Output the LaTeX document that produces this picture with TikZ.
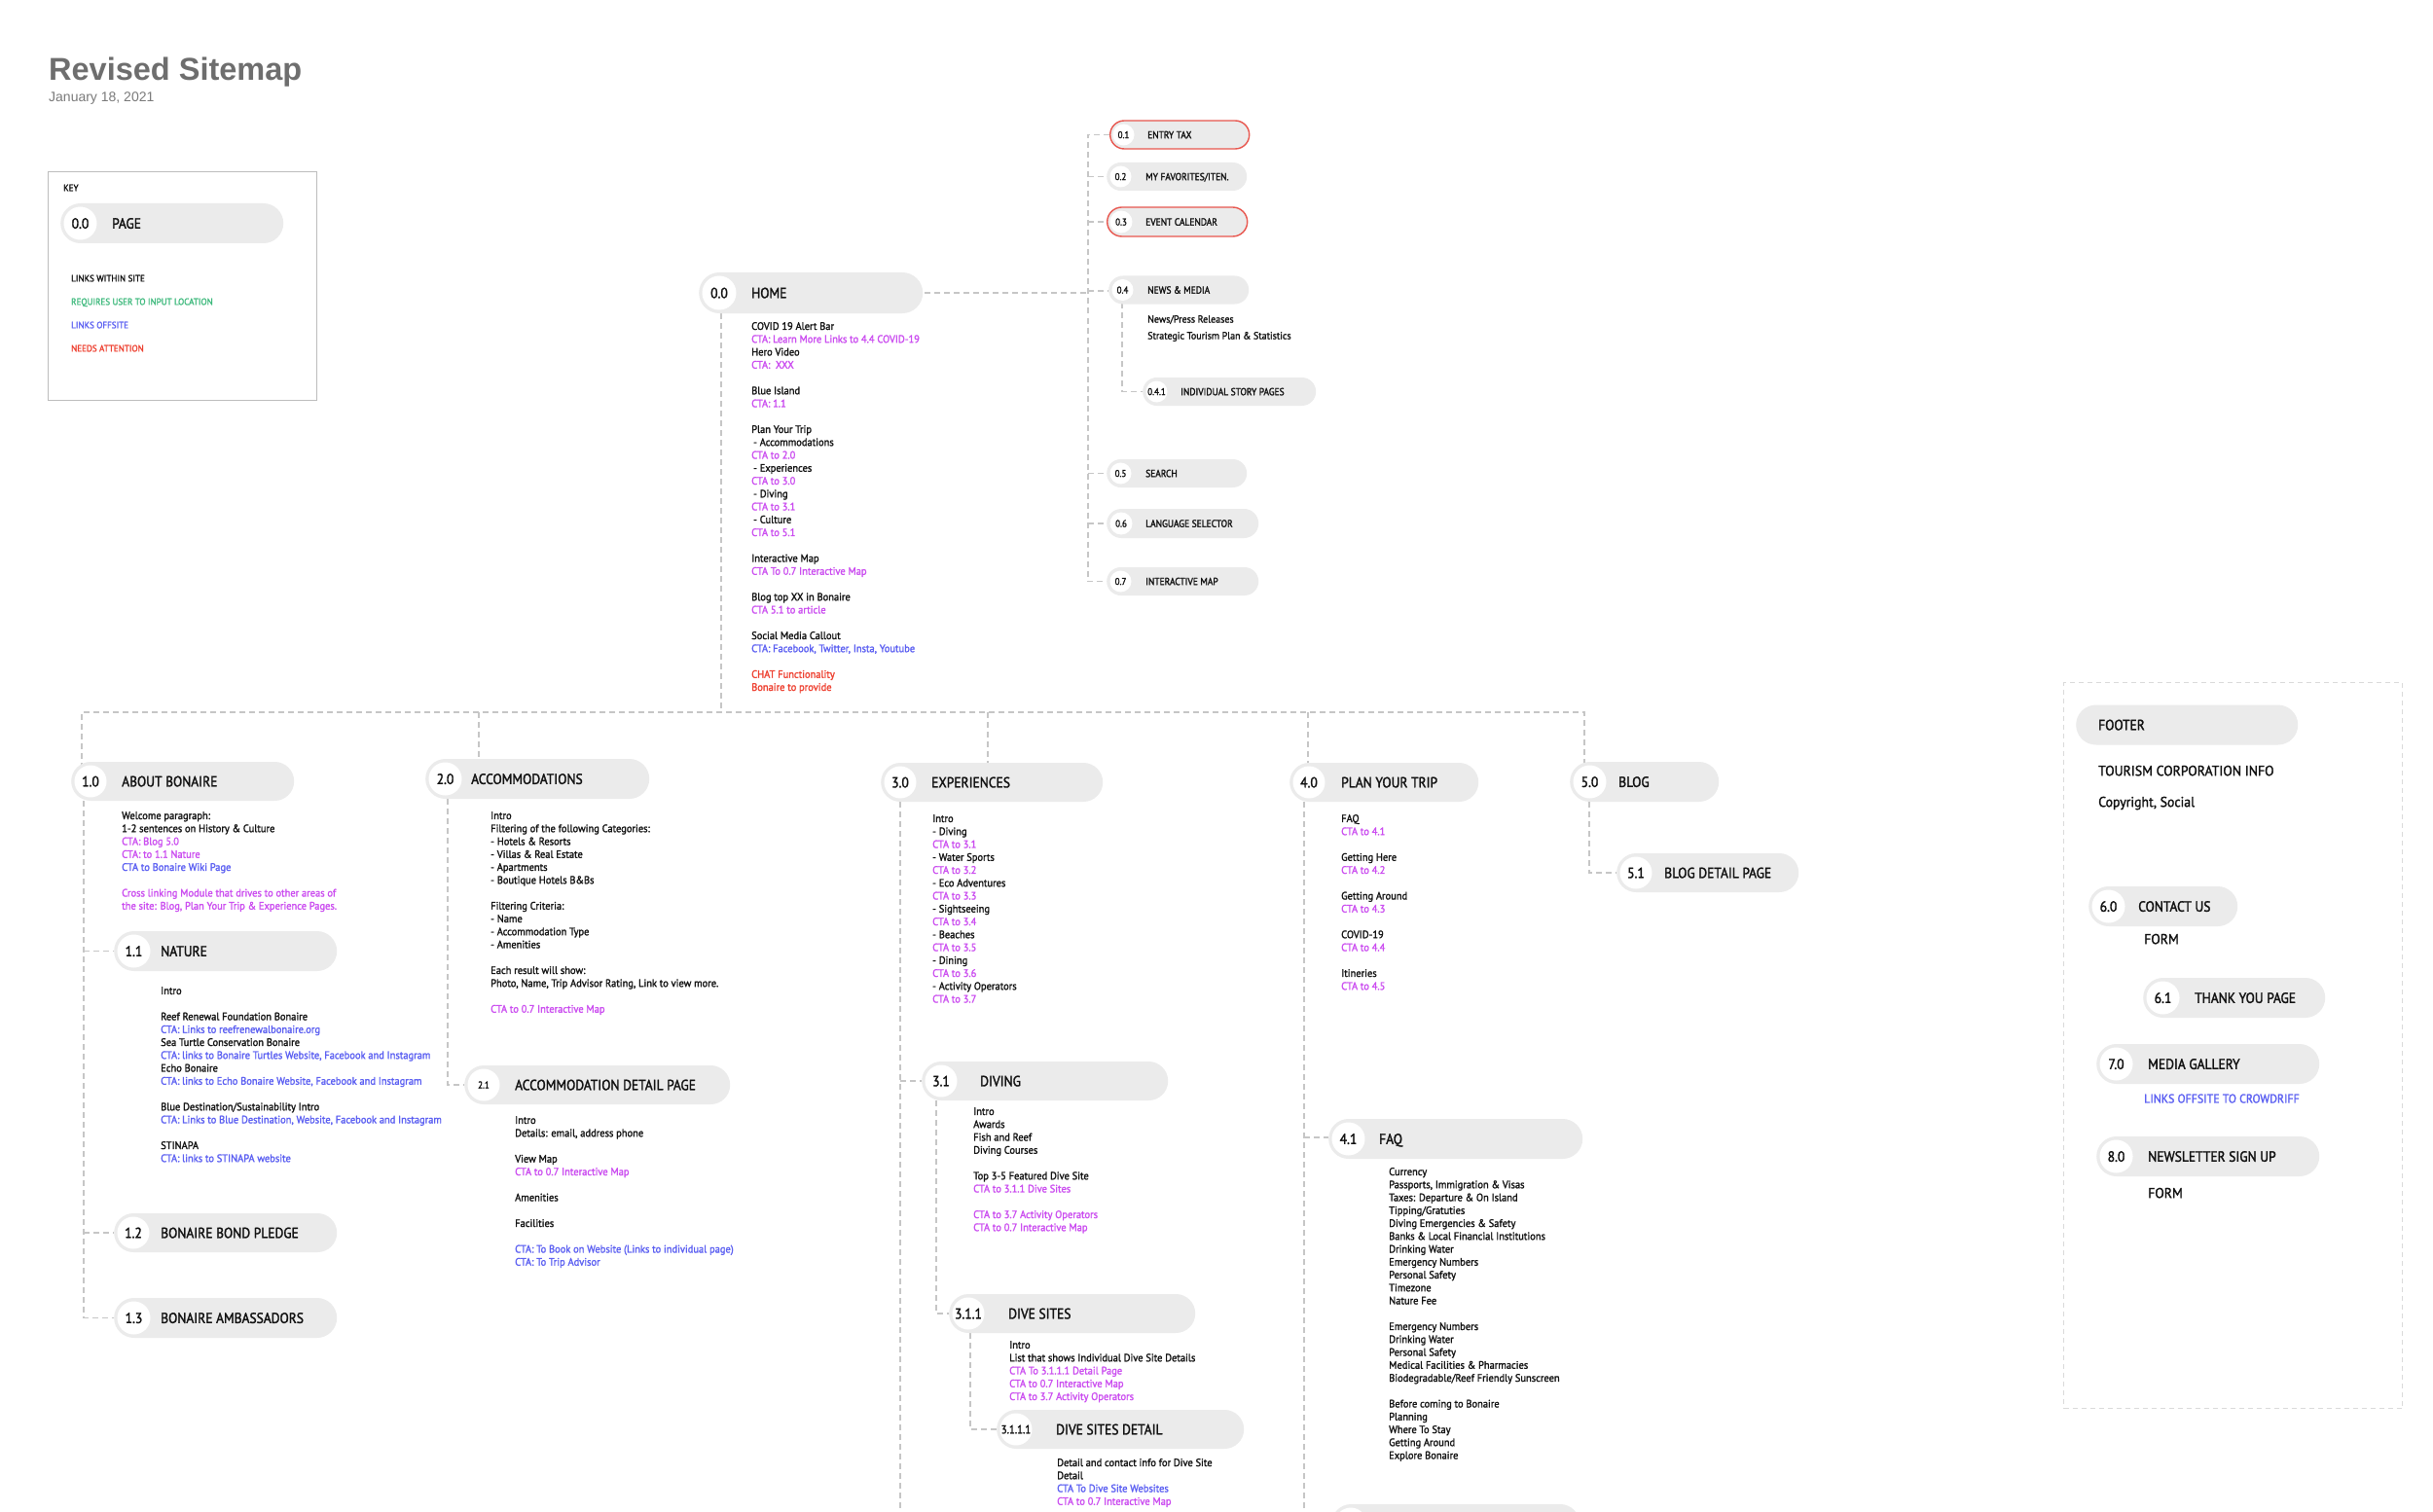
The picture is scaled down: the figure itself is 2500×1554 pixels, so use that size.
\documentclass[tikz,border=0pt]{standalone}
\usepackage{fontspec}
\setmainfont{PT Sans}
\newfontfamily\din{PT Sans}[FakeStretch=0.95,FakeBold=1.6]
\newfontfamily\dinl{PT Sans}[FakeStretch=0.9,FakeBold=1.8]
\newfontfamily\hel{Liberation Sans}
\usetikzlibrary{shapes.misc}
\definecolor{pillgray}{HTML}{EBEBEB}
\definecolor{dashgray}{HTML}{C6C6C6}
\definecolor{boxgray}{HTML}{BDBDBD}
\definecolor{footgray}{HTML}{DADADA}
\definecolor{ctamag}{HTML}{CB4CF0}
\definecolor{ctablue}{HTML}{5A5EF2}
\definecolor{needred}{HTML}{EE3F2F}
\definecolor{locgreen}{HTML}{3DB97C}
\definecolor{redline}{HTML}{E8574F}
\definecolor{inkblack}{HTML}{111111}
\definecolor{titlegray}{HTML}{6E6E6E}
\definecolor{dategray}{HTML}{7A7A7A}
\newcommand{\FBig}{\dinl\fontsize{15}{18}\selectfont}
\newcommand{\FFoot}{\dinl\fontsize{15}{18}\selectfont}
\newcommand{\FSm}{\dinl\fontsize{10}{12}\selectfont}
\newcommand{\FLab}{\dinl\fontsize{10.5}{12}\selectfont}
\newcommand{\FMid}{\dinl\fontsize{12}{14}\selectfont}
\newcommand{\CM}[1]{\textcolor{ctamag}{#1}}
\newcommand{\CB}[1]{\textcolor{ctablue}{#1}}
\newcommand{\CR}[1]{\textcolor{needred}{#1}}
\newcommand{\gap}{\\[13.25pt]}
\tikzset{
 pill/.style={rounded rectangle, fill=pillgray, draw=none, inner sep=0, anchor=west},
 redpill/.style={draw=redline, line width=1.4},
 dot/.style={circle, fill=white, draw=none, inner sep=0},
 conn/.style={draw=dashgray, line width=1.4, dash pattern=on 6 off 4},
 txt/.style={inner sep=0, anchor=north west, align=left, text=inkblack, font=\din\fontsize{11}{13.25}\selectfont},
 lbl/.style={inner sep=0, text=inkblack, text depth=0pt},
 keytxt/.style={inner sep=0, anchor=west, text depth=0pt, font=\din\fontsize{9.5}{11}\selectfont},
 foottxt/.style={inner sep=0, anchor=west, text depth=0pt, text=inkblack, font=\din\fontsize{14.5}{17}\selectfont},
}
% #1 name #2 left #3 cy #4 width #5 height #6 extra #7 number #8 label #9 label offset
\newcommand{\pagepill}[9]{%
 \node[pill, minimum width=#4, minimum height=#5, #6] (#1) at (#2,#3) {};
 \node[dot, minimum size={#5-7}] (#1c) at ({#2+#5/2},#3) {};
 \node[lbl] (#1n) at (#1c) {#7};
 \node[lbl, anchor=west] (#1l) at ({#2+#9},#3) {#8};
}
\newcommand{\bp}[8]{\pagepill{#1}{#2}{#3}{#4}{#5}{}{\FBig #6}{\FBig #7}{#8}}
\begin{document}
\begin{tikzpicture}[x=1pt,y=-1pt]
\useasboundingbox[fill=white] (0,0) rectangle (2500,1554);

% ---------- title ----------
\node[inner sep=0, anchor=base west, text=titlegray, font=\hel\bfseries\fontsize{32.5}{36}\selectfont] (title) at (50,83) {Revised Sitemap};
\node[inner sep=0, anchor=base west, text=dategray, font=\hel\fontsize{14}{16}\selectfont] (date) at (50,105) {January 18, 2021};

% ---------- key ----------
\node[draw=boxgray, line width=1.3, minimum width=276, minimum height=235, inner sep=0, anchor=north west] (keybox) at (49,176) {};
\node[keytxt, text=inkblack] (keyt) at (65,193) {KEY};
\bp{key}{62}{229.5}{229}{41}{0.0}{PAGE}{53}
\node[keytxt, text=inkblack] (k1) at (73,286) {LINKS WITHIN SITE};
\node[keytxt, text=locgreen] (k2) at (73,310) {REQUIRES USER TO INPUT LOCATION};
\node[keytxt, text=ctablue] (k3) at (73,334) {LINKS OFFSITE};
\node[keytxt, text=needred] (k4) at (73,358) {NEEDS ATTENTION};

% ---------- coordinates ----------
\coordinate (tr) at (1118,299);
\coordinate (bus0) at (84,732);
\coordinate (bus2) at (492,732);
\coordinate (bus3) at (1015,732);
\coordinate (bus4) at (1344,732);
\coordinate (bus5) at (1628,732);
\coordinate (hv) at (741,322);
\coordinate (v1) at (86,823);
\coordinate (v2) at (460,821);
\coordinate (v3) at (925,824);
\coordinate (v3b) at (925,1554);
\coordinate (v31) at (962,1131);
\coordinate (v311) at (997,1370);
\coordinate (v4) at (1340,824);
\coordinate (v4b) at (1340,1554);
\coordinate (v5) at (1633,824);
\coordinate (v04) at (1153,311);

% ---------- connectors (drawn before pills so the pills cover their ends) ----------
\draw[conn] (hv) -- (hv |- bus0);
\draw[conn] (bus0 |- 0,790) -- (bus0) -- (bus5) -- (bus5 |- 0,790);
\draw[conn] (bus2) -- (bus2 |- 0,790);
\draw[conn] (bus3) -- (bus3 |- 0,790);
\draw[conn] (bus4) -- (bus4 |- 0,790);
\draw[conn] (940,301) -- (tr |- 0,301);
\draw[conn] (1140,138.5) -- (tr |- 0,138.5) -- (tr |- 0,597.5) -- (1137,597.5);
\draw[conn] (tr |- 0,181.5) -- (1137,181.5);
\draw[conn] (tr |- 0,228) -- (1137,228);
\draw[conn] (tr) -- (1139,299);
\draw[conn] (tr |- 0,486.5) -- (1137,486.5);
\draw[conn] (tr |- 0,538) -- (1137,538);
\draw[conn] (v04) -- (v04 |- 0,402.5) -- (1174,402.5);
\draw[conn] (v1) -- (v1 |- 0,1354.5) -- (117,1354.5);
\draw[conn] (v1 |- 0,977.5) -- (117,977.5);
\draw[conn] (v1 |- 0,1267) -- (117,1267);
\draw[conn] (v2) -- (v2 |- 0,1115) -- (477,1115);
\draw[conn] (v3) -- (v3b);
\draw[conn] (v3 |- 0,1111) -- (947,1111);
\draw[conn] (v31) -- (v31 |- 0,1350) -- (975,1350);
\draw[conn] (v311) -- (v311 |- 0,1469) -- (1024,1469);
\draw[conn] (v4) -- (v4b);
\draw[conn] (v4 |- 0,1169) -- (1365,1169);
\draw[conn] (v5) -- (v5 |- 0,897) -- (1661,897);

% home
\bp{n00}{718}{301}{230}{42}{0.0}{HOME}{54}

% 0.x utility pages
\pagepill{n01}{1140}{138.5}{143}{29}{redpill}{\FSm 0.1}{\FLab ENTRY TAX}{39}
\pagepill{n02}{1137}{181.5}{144}{29}{}{\FSm 0.2}{\FLab MY FAVORITES/ITEN.}{40}
\pagepill{n03}{1137}{228}{144}{30}{redpill}{\FSm 0.3}{\FLab EVENT CALENDAR}{40}
\pagepill{n04}{1139}{298}{144}{29}{}{\FSm 0.4}{\FLab NEWS \& MEDIA}{40}
\pagepill{n041}{1174}{402.5}{178}{29}{}{\FSm 0.4.1}{\FLab INDIVIDUAL STORY PAGES}{39}
\pagepill{n05}{1137}{486.5}{144}{29}{}{\FSm 0.5}{\FLab SEARCH}{40}
\pagepill{n06}{1137}{538}{156}{30}{}{\FSm 0.6}{\FLab LANGUAGE SELECTOR}{40}
\pagepill{n07}{1137}{597.5}{156}{29}{}{\FSm 0.7}{\FLab INTERACTIVE MAP}{40}
\node[txt, font=\din\fontsize{10.5}{17}\selectfont] (t04) at (1179,319.5) {\strut News/Press Releases\\Strategic Tourism Plan \& Statistics};

% home content
\node[txt] (t00) at (772,329.5) {\strut COVID 19 Alert Bar\\
\CM{CTA: Learn More Links to 4.4 COVID-19}\\
Hero Video\\
\CM{CTA:\ \ XXX}\gap
Blue Island\\
\CM{CTA: 1.1}\gap
Plan Your Trip\\
\hspace{2pt}- Accommodations\\
\CM{CTA to 2.0}\\
\hspace{2pt}- Experiences\\
\CM{CTA to 3.0}\\
\hspace{2pt}- Diving\\
\CM{CTA to 3.1}\\
\hspace{2pt}- Culture\\
\CM{CTA to 5.1}\gap
Interactive Map\\
\CM{CTA To 0.7 Interactive Map}\gap
Blog top XX in Bonaire\\
\CM{CTA 5.1 to article}\gap
Social Media Callout\\
\CB{CTA: Facebook, Twitter, Insta, Youtube}\gap
\CR{CHAT Functionality}\\
\CR{Bonaire to provide}};

% 1.x
\bp{n10}{73}{803}{229}{40}{1.0}{ABOUT BONAIRE}{52}
\node[txt] (t10) at (125,832.5) {\strut Welcome paragraph:\\
1-2 sentences on History \& Culture\\
\CM{CTA: Blog 5.0}\\
\CM{CTA: to 1.1 Nature}\\
\CB{CTA to Bonaire Wiki Page}\gap
\CM{Cross linking Module that drives to other areas of}\\
\CM{the site: Blog, Plan Your Trip \& Experience Pages.}};
\bp{n11}{117}{977.5}{229}{41}{1.1}{NATURE}{48}
\node[txt] (t11) at (165,1012.5) {\strut Intro\gap
Reef Renewal Foundation Bonaire\\
\CB{CTA: Links to reefrenewalbonaire.org}\\
Sea Turtle Conservation Bonaire\\
\CB{CTA: links to Bonaire Turtles Website, Facebook and Instagram}\\
Echo Bonaire\\
\CB{CTA: links to Echo Bonaire Website, Facebook and Instagram}\gap
Blue Destination/Sustainability Intro\\
\CB{CTA: Links to Blue Destination, Website, Facebook and Instagram}\gap
STINAPA\\
\CB{CTA: links to STINAPA website}};
\bp{n12}{117}{1267}{229}{40}{1.2}{BONAIRE BOND PLEDGE}{48}
\bp{n13}{117}{1354.5}{229}{41}{1.3}{BONAIRE AMBASSADORS}{48}

% 2.x
\bp{n20}{437}{800.5}{230}{41}{2.0}{ACCOMMODATIONS}{47}
\node[txt] (t20) at (504,832.5) {\strut Intro\\
Filtering of the following Categories:\\
- Hotels \& Resorts\\
- Villas \& Real Estate\\
- Apartments\\
- Boutique Hotels B\&Bs\gap
Filtering Criteria:\\
- Name\\
- Accommodation Type\\
- Amenities\gap
Each result will show:\\
Photo, Name, Trip Advisor Rating, Link to view more.\gap
\CM{CTA to 0.7 Interactive Map}};
\pagepill{n21}{477}{1115}{273}{40}{}{\FSm 2.1}{\FBig ACCOMMODATION DETAIL PAGE}{52}
\node[txt] (t21) at (529,1145.5) {\strut Intro\\
Details: email, address phone\gap
View Map\\
\CM{CTA to 0.7 Interactive Map}\gap
Amenities\gap
Facilities\gap
\CB{CTA: To Book on Website (Links to individual page)}\\
\CB{CTA: To Trip Advisor}};

% 3.x
\bp{n30}{905}{804}{228}{40}{3.0}{EXPERIENCES}{52}
\node[txt] (t30) at (958,835.5) {\strut Intro\\
- Diving\\ \CM{CTA to 3.1}\\
- Water Sports\\ \CM{CTA to 3.2}\\
- Eco Adventures\\ \CM{CTA to 3.3}\\
- Sightseeing\\ \CM{CTA to 3.4}\\
- Beaches\\ \CM{CTA to 3.5}\\
- Dining\\ \CM{CTA to 3.6}\\
- Activity Operators\\ \CM{CTA to 3.7}};
\bp{n31}{947}{1111}{253}{40}{3.1}{DIVING}{60}
\node[txt] (t31) at (1000,1136.5) {\strut Intro\\
Awards\\
Fish and Reef\\
Diving Courses\gap
Top 3-5 Featured Dive Site\\
\CM{CTA to 3.1.1 Dive Sites}\gap
\CM{CTA to 3.7 Activity Operators}\\
\CM{CTA to 0.7 Interactive Map}};
\bp{n311}{975}{1350}{253}{40}{3.1.1}{DIVE SITES}{61}
\node[txt] (t311) at (1037,1376.5) {\strut Intro\\
List that shows Individual Dive Site Details\\
\CM{CTA To 3.1.1.1 Detail Page}\\
\CM{CTA to 0.7 Interactive Map}\\
\CM{CTA to 3.7 Activity Operators}};
\pagepill{n3111}{1024}{1469}{254}{40}{}{\FMid 3.1.1.1}{\FBig DIVE SITES DETAIL}{61}
\node[txt] (t3111) at (1086,1497.5) {\strut Detail and contact info for Dive Site\\
Detail\\
\CB{CTA To Dive Site Websites}\\
\CM{CTA to 0.7 Interactive Map}};

% 4.x
\bp{n40}{1325}{804}{194}{40}{4.0}{PLAN YOUR TRIP}{53}
\node[txt] (t40) at (1378,835.5) {\strut FAQ\\
\CM{CTA to 4.1}\gap
Getting Here\\
\CM{CTA to 4.2}\gap
Getting Around\\
\CM{CTA to 4.3}\gap
COVID-19\\
\CM{CTA to 4.4}\gap
Itineries\\
\CM{CTA to 4.5}};
\bp{n41}{1365}{1170.5}{261}{41}{4.1}{FAQ}{52}
\node[txt] (t41) at (1427,1198.5) {\strut Currency\\
Passports, Immigration \& Visas\\
Taxes: Departure \& On Island\\
Tipping/Gratuties\\
Diving Emergencies \& Safety\\
Banks \& Local Financial Institutions\\
Drinking Water\\
Emergency Numbers\\
Personal Safety\\
Timezone\\
Nature Fee\gap
Emergency Numbers\\
Drinking Water\\
Personal Safety\\
Medical Facilities \& Pharmacies\\
Biodegradable/Reef Friendly Sunscreen\gap
Before coming to Bonaire\\
Planning\\
Where To Stay\\
Getting Around\\
Explore Bonaire};
\pagepill{n42}{1368}{1566}{255}{40}{}{}{}{52}

% 5.x
\bp{n50}{1613}{803.5}{153}{41}{5.0}{BLOG}{50}
\bp{n51}{1661}{897}{187}{40}{5.1}{BLOG DETAIL PAGE}{49}

% ---------- footer ----------
\node[draw=footgray, line width=1, dash pattern=on 5 off 4, minimum width=348, minimum height=746, inner sep=0, anchor=north west] (footbox) at (2120,701) {};
\node[pill, minimum width=228, minimum height=41] (nft) at (2133,745) {};
\node[lbl, anchor=west] (nftl) at (2156,745) {\FFoot FOOTER};
\node[foottxt] (ft1) at (2156,792) {TOURISM CORPORATION INFO};
\node[foottxt] (ft2) at (2156,824) {Copyright, Social};
\pagepill{n60}{2146}{931.5}{153}{41}{}{\FFoot 6.0}{\FFoot CONTACT US}{51}
\node[foottxt] (ft3) at (2203,965) {FORM};
\pagepill{n61}{2202}{1025.5}{187}{41}{}{\FFoot 6.1}{\FFoot THANK YOU PAGE}{53}
\pagepill{n70}{2154}{1093.5}{229}{41}{}{\FFoot 7.0}{\FFoot MEDIA GALLERY}{53}
\node[foottxt, text=ctablue, font=\din\fontsize{12.5}{14}\selectfont] (ft4) at (2203,1129) {LINKS OFFSITE TO CROWDRIFF};
\pagepill{n80}{2154}{1188.5}{229}{41}{}{\FFoot 8.0}{\FFoot NEWSLETTER SIGN UP}{53}
\node[foottxt] (ft5) at (2207,1226) {FORM};
\end{tikzpicture}
\end{document}
